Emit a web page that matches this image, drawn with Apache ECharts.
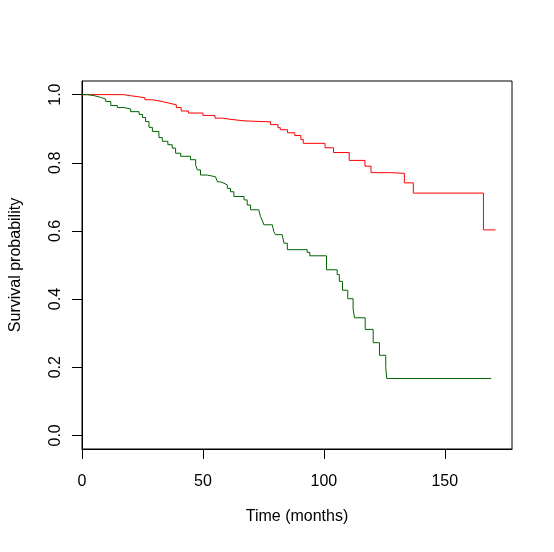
<!DOCTYPE html>
<html>
<head>
<meta charset="utf-8">
<script src="https://cdn.jsdelivr.net/npm/echarts@6/dist/echarts.min.js"></script>
<style>
html,body{margin:0;padding:0;background:#fff;}
#c{width:554px;height:552px;}
</style>
</head>
<body>
<div id="c"></div>
<script>
// Kaplan-Meier step data (time in months, survival probability)
var redTimes = [0, 17, 20, 23, 26, 29, 33, 36, 39, 41, 44, 50, 55, 58, 62, 67, 78, 81, 82, 85, 88, 90.5, 91.5, 100.5, 104, 110.5, 117, 119.5, 127.5, 133.3, 137, 166, 171];
var redSurv  = [1.0, 0.997, 0.994, 0.991, 0.985, 0.980, 0.975, 0.970, 0.962, 0.952, 0.946, 0.939, 0.931, 0.927, 0.923, 0.920, 0.912, 0.903, 0.897, 0.888, 0.880, 0.868, 0.857, 0.844, 0.830, 0.807, 0.790, 0.771, 0.769, 0.741, 0.711, 0.603, 0.603];

var greenTimes = [0, 2.2, 5, 7.7, 9.8, 11.9, 14.6, 17.4, 20.1, 23.6, 25, 26.3, 27.7, 29.1, 31.8, 33.2, 35.5, 37.3, 38.7, 40.8, 44.9, 47, 47.7, 49, 51.8, 55.2, 56, 57.3, 58.7, 60.1, 61.4, 62.8, 67, 68.3, 69.7, 73.1, 73.8, 74.5, 75.2, 78.7, 79.3, 80, 82.8, 83.5, 84.9, 93.1, 94.2, 101.1, 105.5, 106.4, 107.7, 109.9, 112.1, 112.7, 117.1, 120.4, 123, 125.6, 126, 169.2];
var greenSurv  = [1.0, 0.997, 0.992, 0.987, 0.980, 0.968, 0.962, 0.958, 0.950, 0.942, 0.933, 0.921, 0.904, 0.892, 0.874, 0.863, 0.853, 0.843, 0.828, 0.819, 0.809, 0.793, 0.779, 0.764, 0.759, 0.754, 0.744, 0.740, 0.735, 0.725, 0.715, 0.701, 0.691, 0.676, 0.662, 0.657, 0.642, 0.632, 0.618, 0.613, 0.598, 0.589, 0.584, 0.564, 0.545, 0.537, 0.527, 0.486, 0.472, 0.452, 0.426, 0.401, 0.371, 0.345, 0.311, 0.272, 0.235, 0.199, 0.167, 0.167];

var xTicks = [0, 50, 100, 150];
var yTicks = [0, 0.2, 0.4, 0.6, 0.8, 1.0];
var xTitle = 'Time (months)';
var yTitle = 'Survival probability';

function zip(a, b) { return a.map(function (v, i) { return [v, b[i]]; }); }

var font = 'Liberation Sans, Arial, Helvetica, sans-serif';
var chart = echarts.init(document.getElementById('c'), null, {renderer: 'canvas'});
chart.setOption({
  animation: false,
  backgroundColor: '#ffffff',
  grid: {left: 81, right: 42, top: 81, bottom: 103, show: true, borderColor: '#000', borderWidth: 1, backgroundColor: 'transparent'},
  xAxis: {
    type: 'value', min: 0, max: 177.8,
    name: xTitle, nameLocation: 'middle', nameGap: 60,
    nameTextStyle: {fontFamily: font, fontSize: 16, color: '#000'},
    axisLine: {show: true, onZero: false, lineStyle: {color: '#000', width: 1}},
    axisTick: {show: true, length: 10, customValues: xTicks, lineStyle: {color: '#000'}},
    axisLabel: {customValues: xTicks, margin: 25, fontFamily: font, fontSize: 16, color: '#000'},
    splitLine: {show: false}
  },
  yAxis: {
    type: 'value', min: -0.04, max: 1.04,
    name: yTitle, nameLocation: 'middle', nameGap: 58,
    nameTextStyle: {fontFamily: font, fontSize: 16, color: '#000'},
    axisLine: {show: true, onZero: false, lineStyle: {color: '#000', width: 1}},
    axisTick: {show: true, length: 10, customValues: yTicks, lineStyle: {color: '#000'}},
    axisLabel: {customValues: yTicks, rotate: 90, margin: 18, fontFamily: font, fontSize: 16, color: '#000',
      formatter: function (v) { return v.toFixed(1); }},
    splitLine: {show: false}
  },
  series: [
    {type: 'line', step: 'end', data: zip(redTimes, redSurv), showSymbol: false, symbol: 'none',
     lineStyle: {color: '#ff0000', width: 1}, itemStyle: {color: '#ff0000'}},
    {type: 'line', step: 'end', data: zip(greenTimes, greenSurv), showSymbol: false, symbol: 'none',
     lineStyle: {color: '#006400', width: 1}, itemStyle: {color: '#006400'}}
  ]
});
</script>
</body>
</html>
